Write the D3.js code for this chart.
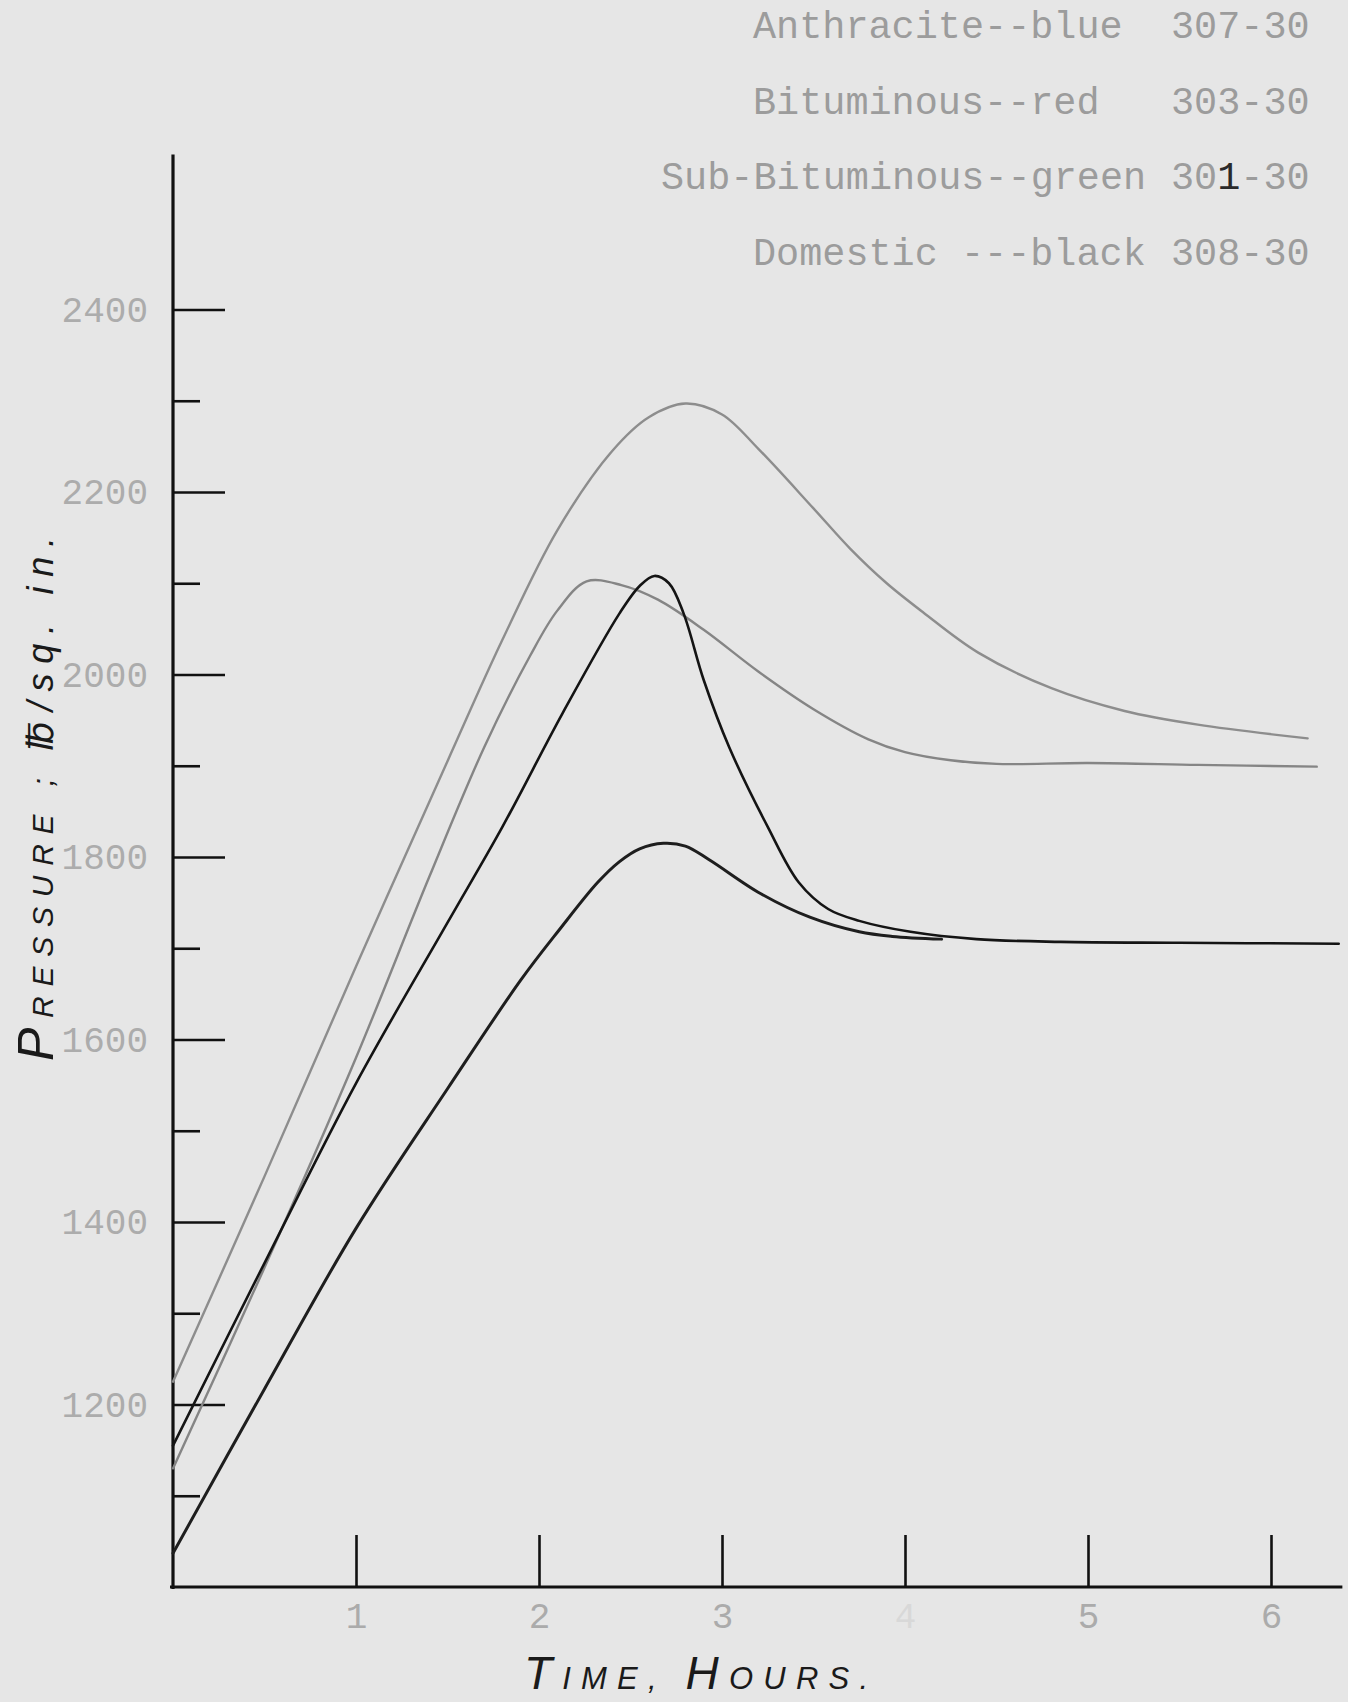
<!DOCTYPE html>
<html>
<head>
<meta charset="utf-8">
<script src="https://cdn.jsdelivr.net/npm/d3@7"></script>
<style>
  html, body { margin: 0; padding: 0; background: #e6e6e6; }
  svg { display: block; }
</style>
</head>
<body>
<svg id="chart" width="1348" height="1702"></svg>
<script>
// values (hours, lb/sq. in.)
const anthraciteHours = [0, 0.5, 1.0, 1.5, 1.8, 2.1, 2.4, 2.6, 2.8, 3.0, 3.2, 3.5, 3.7, 3.9, 4.1, 4.4, 4.8, 5.2, 5.6, 6.2]
const anthracitePsi = [1225, 1450, 1680, 1905, 2038, 2158, 2245, 2282, 2297, 2285, 2247, 2182, 2138, 2100, 2068, 2024, 1985, 1960, 1945, 1930]

const subBitHours = [0, 0.5, 1.0, 1.4, 1.7, 1.95, 2.1, 2.26, 2.45, 2.65, 2.9, 3.2, 3.5, 3.8, 4.0, 4.25, 4.5, 5.0, 5.6, 6.25]
const subBitPsi = [1130, 1350, 1580, 1778, 1920, 2020, 2070, 2102, 2098, 2082, 2049, 2003, 1962, 1929, 1915, 1906, 1902, 1903, 1901, 1899]

const bituminousHours = [0, 0.5, 1.0, 1.5, 1.8, 2.13, 2.44, 2.55, 2.63, 2.71, 2.79, 2.9, 3.04, 3.25, 3.42, 3.58, 3.75, 4.03, 4.39, 4.85, 5.5, 6.37]
const bituminousPsi = [1155, 1355, 1552, 1728, 1833, 1958, 2067, 2097, 2108, 2100, 2067, 1994, 1920, 1833, 1772, 1743, 1730, 1718, 1710, 1707, 1706, 1705]

const domesticHours = [0, 0.5, 1.0, 1.5, 1.9, 2.11, 2.32, 2.44, 2.55, 2.68, 2.8, 2.93, 3.21, 3.48, 3.75, 3.93, 4.2]
const domesticPsi = [1037, 1217, 1393, 1546, 1665, 1720, 1772, 1795, 1809, 1815, 1812, 1797, 1760, 1734, 1718, 1713, 1710]

const hourTicks = [1, 2, 3, 4, 5, 6]
const pressureTicks = [1200, 1400, 1600, 1800, 2000, 2200, 2400]
const pressureMinorTicks = [1100, 1300, 1500, 1700, 1900, 2100, 2300]

const legendNames = ['Anthracite--blue', 'Bituminous--red', 'Sub-Bituminous--green', 'Domestic ---black']
const legendCodes = ['307-30', '303-30', '301-30', '308-30']

const svg = d3.select('#chart')
const mono = "'Liberation Mono', 'DejaVu Sans Mono', monospace"
const hand = "'Liberation Sans', 'DejaVu Sans', sans-serif"

svg.append('rect').attr('width', 1348).attr('height', 1702).attr('fill', '#e6e6e6')

const x = d3.scaleLinear().domain([0, 6]).range([173, 1271])
const y = d3.scaleLinear().domain([1000, 2400]).range([1587, 309.5])

// axis lines
svg.append('line')
  .attr('x1', x(0)).attr('x2', x(0))
  .attr('y1', y(2570)).attr('y2', y(1000) + 2)
  .attr('stroke', '#111').attr('stroke-width', 3.2)

svg.append('line')
  .attr('x1', x(0) - 3).attr('x2', x(6.39))
  .attr('y1', y(1000)).attr('y2', y(1000))
  .attr('stroke', '#111').attr('stroke-width', 3.2)

// y ticks point inward, labels sit outside
const yAxis = svg.append('g')
  .attr('transform', `translate(${x(0)},0)`)
  .call(d3.axisLeft(y).tickValues(pressureTicks).tickSize(-52).tickPadding(25).tickFormat(d3.format('d')))
yAxis.select('.domain').remove()
yAxis.selectAll('line').attr('stroke', '#111').attr('stroke-width', 2.6)
yAxis.selectAll('text')
  .attr('font-family', mono).attr('font-size', 36).attr('fill', '#acacac')

const yMinor = svg.append('g')
  .attr('transform', `translate(${x(0)},0)`)
  .call(d3.axisLeft(y).tickValues(pressureMinorTicks).tickSize(-27).tickFormat(''))
yMinor.select('.domain').remove()
yMinor.selectAll('line').attr('stroke', '#111').attr('stroke-width', 2.6)

const xAxis = svg.append('g')
  .attr('transform', `translate(0,${y(1000)})`)
  .call(d3.axisBottom(x).tickValues(hourTicks).tickSize(-52).tickPadding(15).tickFormat(d3.format('d')))
xAxis.select('.domain').remove()
xAxis.selectAll('line').attr('stroke', '#111').attr('stroke-width', 2.6)
xAxis.selectAll('text')
  .attr('font-family', mono).attr('font-size', 36)
  .attr('fill', (d) => (d === 4 ? '#d8d8d8' : '#ababab'))

// curves
const series = [
  { hours: anthraciteHours, psi: anthracitePsi, color: '#8d8d8d', width: 2.4 },
  { hours: subBitHours, psi: subBitPsi, color: '#858585', width: 2.4 },
  { hours: bituminousHours, psi: bituminousPsi, color: '#141414', width: 2.6 },
  { hours: domesticHours, psi: domesticPsi, color: '#1e1e1e', width: 3 },
]

const line = d3.line()
  .x((d) => x(d[0]))
  .y((d) => y(d[1]))
  .curve(d3.curveCatmullRom.alpha(0.5))

svg.append('g')
  .selectAll('path')
  .data(series)
  .join('path')
  .attr('d', (s) => line(s.hours.map((h, i) => [h, s.psi[i]])))
  .attr('fill', 'none')
  .attr('stroke', (s) => s.color)
  .attr('stroke-width', (s) => s.width)
  .attr('stroke-linecap', 'round')
  .attr('stroke-linejoin', 'round')

// typed legend, top right
const legendCol = [753, 753, 661, 753]
const codeCol = 1171
const legend = svg.append('g')
  .attr('font-family', mono)
  .attr('font-size', 38.5)
  .attr('fill', '#9c9c9c')

legendNames.forEach((name, i) => {
  const t = legend.append('text').attr('y', 38 + i * 75.7)
  t.append('tspan').attr('x', legendCol[i]).text(name)
  const code = t.append('tspan').attr('x', codeCol)
  if (legendCodes[i] === '301-30') {
    code.text('30')
    t.append('tspan').attr('fill', '#2a2a2a').text('1')
    t.append('tspan').text('-30')
  } else {
    code.text(legendCodes[i])
  }
})

// handwritten axis titles
const xTitle = svg.append('text')
  .attr('x', 524).attr('y', 1689)
  .attr('font-family', hand).attr('font-style', 'italic')
  .attr('fill', '#1a1a1a')
  .attr('textLength', 344).attr('lengthAdjust', 'spacing')
xTitle.append('tspan').attr('font-size', 46).text('T')
xTitle.append('tspan').attr('font-size', 31).text('IME, ')
xTitle.append('tspan').attr('font-size', 46).text('H')
xTitle.append('tspan').attr('font-size', 31).text('OURS.')

const yTitle = svg.append('text')
  .attr('transform', 'translate(53,1061) rotate(-90)')
  .attr('x', 0).attr('y', 0)
  .attr('font-family', hand).attr('font-style', 'italic')
  .attr('fill', '#1a1a1a')
  .attr('textLength', 524).attr('lengthAdjust', 'spacing')
yTitle.append('tspan').attr('font-size', 50).text('P')
yTitle.append('tspan').attr('font-size', 30).text('RESSURE ; ')
yTitle.append('tspan').attr('font-size', 36).text('℔/sq. in.')
</script>
</body>
</html>
